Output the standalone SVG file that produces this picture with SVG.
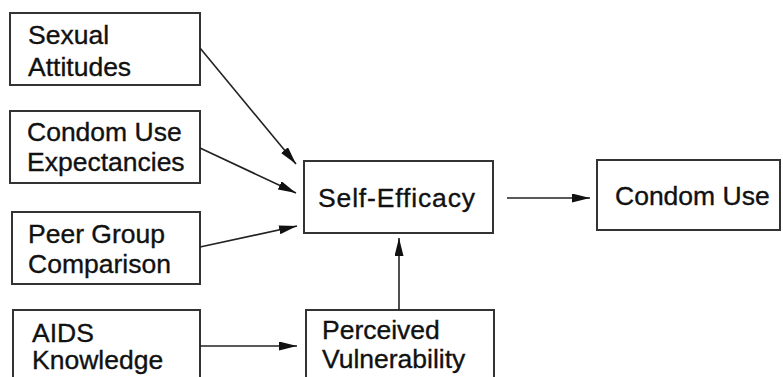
<svg xmlns="http://www.w3.org/2000/svg" width="783" height="377" viewBox="0 0 783 377">
<defs>
<style>
.box{fill:#fff;stroke:#333;stroke-width:2}
.t{font-family:"Liberation Sans",Arial,sans-serif;font-size:26.5px;fill:#111;stroke:#111;stroke-width:0.35}
.c{stroke:#222;stroke-width:1.6;fill:none;marker-end:url(#ah)}
</style>
<marker id="ah" viewBox="0 0 18 9" refX="18" refY="4.5" markerWidth="18" markerHeight="9" markerUnits="userSpaceOnUse" orient="auto">
<path d="M0,0 L18,4.5 L0,9 Z" fill="#111"/>
</marker>
</defs>
<rect width="783" height="377" fill="#fff"/>
<g id="sexual-attitudes"><rect class="box" x="10" y="13" width="190" height="72"/><text class="t" x="28" y="44">Sexual</text><text class="t" x="28" y="76">Attitudes</text></g>
<g id="condom-use-expectancies"><rect class="box" x="10" y="111" width="190" height="72"/><text class="t" x="27" y="141">Condom Use</text><text class="t" x="27" y="171">Expectancies</text></g>
<g id="peer-group-comparison"><rect class="box" x="12" y="212" width="188" height="72"/><text class="t" x="28" y="243">Peer Group</text><text class="t" x="28" y="273">Comparison</text></g>
<g id="aids-knowledge"><rect class="box" x="13" y="310" width="187" height="80"/><text class="t" x="32" y="342">AIDS</text><text class="t" x="32" y="369">Knowledge</text></g>
<g id="self-efficacy"><rect class="box" x="304" y="161" width="189" height="72"/><text class="t" x="318" y="207" textLength="157" lengthAdjust="spacing">Self-Efficacy</text></g>
<g id="perceived-vulnerability"><rect class="box" x="306" y="310" width="188" height="80"/><text class="t" x="322" y="339">Perceived</text><text class="t" x="322" y="368">Vulnerability</text></g>
<g id="condom-use"><rect class="box" x="597" y="160" width="183" height="70"/><text class="t" x="615" y="205">Condom Use</text></g>
<g id="connectors">
<line class="c" x1="200" y1="48" x2="296" y2="164"/>
<line class="c" x1="200" y1="148" x2="296" y2="193"/>
<line class="c" x1="200" y1="247" x2="297" y2="226"/>
<line class="c" x1="200" y1="346" x2="297" y2="346"/>
<line class="c" x1="399" y1="310" x2="399" y2="238"/>
<line class="c" x1="507" y1="198" x2="590" y2="198"/>
</g>
</svg>
